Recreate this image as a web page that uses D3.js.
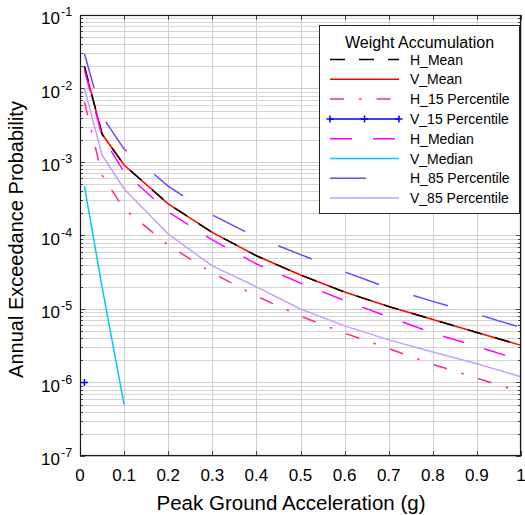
<!DOCTYPE html>
<html><head><meta charset="utf-8">
<script src="https://cdn.jsdelivr.net/npm/d3@7"></script>
<style>body{margin:0;background:#fff}svg{display:block;font-family:"Liberation Sans",Arial,sans-serif}</style>
</head><body><svg id="c" width="525" height="515"></svg>
<script>
// ---- data ----
const pga = [0.01, 0.05, 0.1, 0.2, 0.3, 0.4, 0.5, 0.6, 0.7, 0.8, 0.9, 1.0];
const hMean   = [2.0e-2, 2.4e-3, 9.1e-4, 2.7e-4, 1.1e-4, 5.3e-5, 2.9e-5, 1.7e-5, 1.08e-5, 7.2e-6, 4.8e-6, 3.2e-6];
const vMean   = [2.0e-2, 2.4e-3, 9.1e-4, 2.7e-4, 1.1e-4, 5.3e-5, 2.9e-5, 1.7e-5, 1.08e-5, 7.2e-6, 4.8e-6, 3.2e-6];
const h15     = [6.6e-3, 6.6e-4, 2.3e-4, 7.4e-5, 3.1e-5, 1.5e-5, 8.0e-6, 4.7e-6, 2.9e-6, 1.76e-6, 1.15e-6, 7.4e-7];
const v15Pga  = [0.01];
const v15     = [1.0e-6];
const hMedian = [1.8e-2, 2.25e-3, 7.3e-4, 2.1e-4, 8.7e-5, 4.1e-5, 2.25e-5, 1.3e-5, 7.8e-6, 4.7e-6, 3.1e-6, 2.0e-6];
const vMedianPga = [0.01, 0.05, 0.1];
const vMedian = [4.7e-4, 2.0e-5, 5.0e-7];
const h85     = [3.0e-2, 4.2e-3, 1.5e-3, 4.7e-4, 1.9e-4, 9.5e-5, 5.5e-5, 3.2e-5, 1.93e-5, 1.27e-5, 8.5e-6, 5.6e-6];
const v85     = [1.0e-2, 1.25e-3, 4.3e-4, 1.05e-4, 3.85e-5, 2.0e-5, 1.0e-5, 5.9e-6, 3.8e-6, 2.6e-6, 1.8e-6, 1.2e-6];
const xTicks = [0, 0.1, 0.2, 0.3, 0.4, 0.5, 0.6, 0.7, 0.8, 0.9, 1];
const xTickLabels = ["0", "0.1", "0.2", "0.3", "0.4", "0.5", "0.6", "0.7", "0.8", "0.9", "1"];
const yExponents = [-1, -2, -3, -4, -5, -6, -7];
const seriesNames = ["H_Mean", "V_Mean", "H_15 Percentile", "V_15 Percentile", "H_Median", "V_Median", "H_85 Percentile", "V_85 Percentile"];
const legendTitle = "Weight Accumulation";
const xTitle = "Peak Ground Acceleration (g)";
const yTitle = "Annual Exceedance Probability";

// ---- series table (built from arrays) ----
const seriesData = {
  "H_Mean": [pga, hMean], "V_Mean": [pga, vMean], "H_15 Percentile": [pga, h15],
  "V_15 Percentile": [v15Pga, v15], "H_Median": [pga, hMedian], "V_Median": [vMedianPga, vMedian],
  "H_85 Percentile": [pga, h85], "V_85 Percentile": [pga, v85]
};
const styles = {
  "H_Mean": {c: "#000000", d: "15,14"},
  "V_Mean": {c: "#ff0000", d: null},
  "H_15 Percentile": {c: "#ff2a8a", d: "14,15,2.5,15"},
  "V_15 Percentile": {c: "#0000ff", d: null, marker: true},
  "H_Median": {c: "#ff00ff", d: "22,21"},
  "V_Median": {c: "#00c8f8", d: null},
  "H_85 Percentile": {c: "#6b45ff", d: "36,36"},
  "V_85 Percentile": {c: "#c3a0ff", d: null}
};
const drawOrder = ["V_Mean", "H_Mean", "H_15 Percentile", "V_15 Percentile", "H_Median", "V_Median", "H_85 Percentile", "V_85 Percentile"];

// ---- layout ----
const L = 80, R = 521, T = 15, B = 456;
const svg = d3.select("#c");
const x = d3.scaleLinear().domain([0, 1]).range([L, R]);
const y = d3.scaleLog().domain([1e-7, 1e-1]).range([B, T]);
const px = v => Math.round(v) + 0.5;

// grid
const g = svg.append("g");
const minorVals = [];
for (let e = -7; e < -1; e++) for (let m = 2; m <= 9; m++) minorVals.push(m * Math.pow(10, e));
g.selectAll(".hmin").data(minorVals).join("line")
  .attr("x1", L).attr("x2", R).attr("y1", d => px(y(d))).attr("y2", d => px(y(d)))
  .attr("stroke", "#d6d6d6").attr("stroke-width", 1);
g.selectAll(".hmaj").data(yExponents).join("line")
  .attr("x1", L).attr("x2", R).attr("y1", d => px(y(Math.pow(10, d)))).attr("y2", d => px(y(Math.pow(10, d))))
  .attr("stroke", "#cfcfcf").attr("stroke-width", 1);
g.selectAll(".vmaj").data(xTicks).join("line")
  .attr("y1", T).attr("y2", B).attr("x1", d => px(x(d))).attr("x2", d => px(x(d)))
  .attr("stroke", "#cfcfcf").attr("stroke-width", 1);

// ticks
const tk = svg.append("g").attr("stroke", "#444").attr("stroke-width", 1);
xTicks.forEach(t => {
  tk.append("line").attr("x1", px(x(t))).attr("x2", px(x(t))).attr("y1", B).attr("y2", B - 5);
  tk.append("line").attr("x1", px(x(t))).attr("x2", px(x(t))).attr("y1", T).attr("y2", T + 5);
});
yExponents.forEach(e => {
  const yy = px(y(Math.pow(10, e)));
  tk.append("line").attr("x1", L).attr("x2", L + 5).attr("y1", yy).attr("y2", yy);
  tk.append("line").attr("x1", R).attr("x2", R - 5).attr("y1", yy).attr("y2", yy);
});
minorVals.forEach(v => {
  const yy = px(y(v));
  tk.append("line").attr("x1", L).attr("x2", L + 3).attr("y1", yy).attr("y2", yy);
  tk.append("line").attr("x1", R).attr("x2", R - 3).attr("y1", yy).attr("y2", yy);
});

// series
const line = d3.line().x(d => x(d[0])).y(d => y(d[1]));
const plot = svg.append("g");
drawOrder.forEach(name => {
  const [xs, ys] = seriesData[name];
  const pts = xs.map((v, i) => [v, ys[i]]);
  const st = styles[name];
  if (pts.length > 1) {
    plot.append("path").datum(pts).attr("d", line).attr("fill", "none")
      .attr("stroke", st.c).attr("stroke-width", 1.5)
      .attr("stroke-dasharray", st.d);
  }
  if (st.marker) {
    pts.forEach(p => {
      const cx = x(p[0]), cy = y(p[1]);
      plot.append("path").attr("d", `M${cx - 3.5},${cy}H${cx + 3.5}M${cx},${cy - 3.5}V${cy + 3.5}`)
        .attr("stroke", st.c).attr("stroke-width", 1.5);
    });
  }
});

// axes box
svg.append("rect").attr("x", L + 0.5).attr("y", T + 0.5).attr("width", R - L - 1).attr("height", B - T - 1)
  .attr("fill", "none").attr("stroke", "#1a1a1a").attr("stroke-width", 1.2);

// tick labels
svg.append("g").selectAll("text").data(xTicks).join("text")
  .attr("x", d => x(d)).attr("y", 481).attr("text-anchor", "middle")
  .attr("font-size", 17).attr("fill", "#000").text((d, i) => xTickLabels[i]);
const yl = svg.append("g");
yExponents.forEach(e => {
  const yy = y(Math.pow(10, e));
  yl.append("text").attr("x", 60).attr("y", yy + 9).attr("text-anchor", "end")
    .attr("font-size", 17).text("10");
  yl.append("text").attr("x", 61).attr("y", yy + 1).attr("text-anchor", "start")
    .attr("font-size", 12.5).text(String(e));
});

// axis titles
svg.append("text").attr("x", 291).attr("y", 510).attr("text-anchor", "middle")
  .attr("font-size", 20.5).text(xTitle);
svg.append("text").attr("transform", `translate(23,${(T + B) / 2 + 4}) rotate(-90)`)
  .attr("text-anchor", "middle").attr("font-size", 20).text(yTitle);

// legend
const lg = svg.append("g");
lg.append("rect").attr("x", 319.5).attr("y", 25.5).attr("width", 200).attr("height", 188)
  .attr("fill", "#fff").attr("stroke", "#262626").attr("stroke-width", 1);
lg.append("text").attr("x", 419.5).attr("y", 48).attr("text-anchor", "middle")
  .attr("font-size", 16).text(legendTitle);
seriesNames.forEach((name, i) => {
  const yy = 59.5 + i * 19.8;
  const st = styles[name];
  lg.append("line").attr("x1", 330).attr("x2", 399).attr("y1", yy).attr("y2", yy)
    .attr("stroke", st.c).attr("stroke-width", 1.5).attr("stroke-dasharray", st.d);
  if (st.marker) {
    [330, 364.5, 399].forEach(mx => {
      lg.append("path").attr("d", `M${mx - 3.5},${yy}H${mx + 3.5}M${mx},${yy - 3.5}V${yy + 3.5}`)
        .attr("stroke", st.c).attr("stroke-width", 1.5);
    });
  }
  lg.append("text").attr("x", 410).attr("y", yy + 5).attr("font-size", 14).text(name);
});
</script>
</body></html>
